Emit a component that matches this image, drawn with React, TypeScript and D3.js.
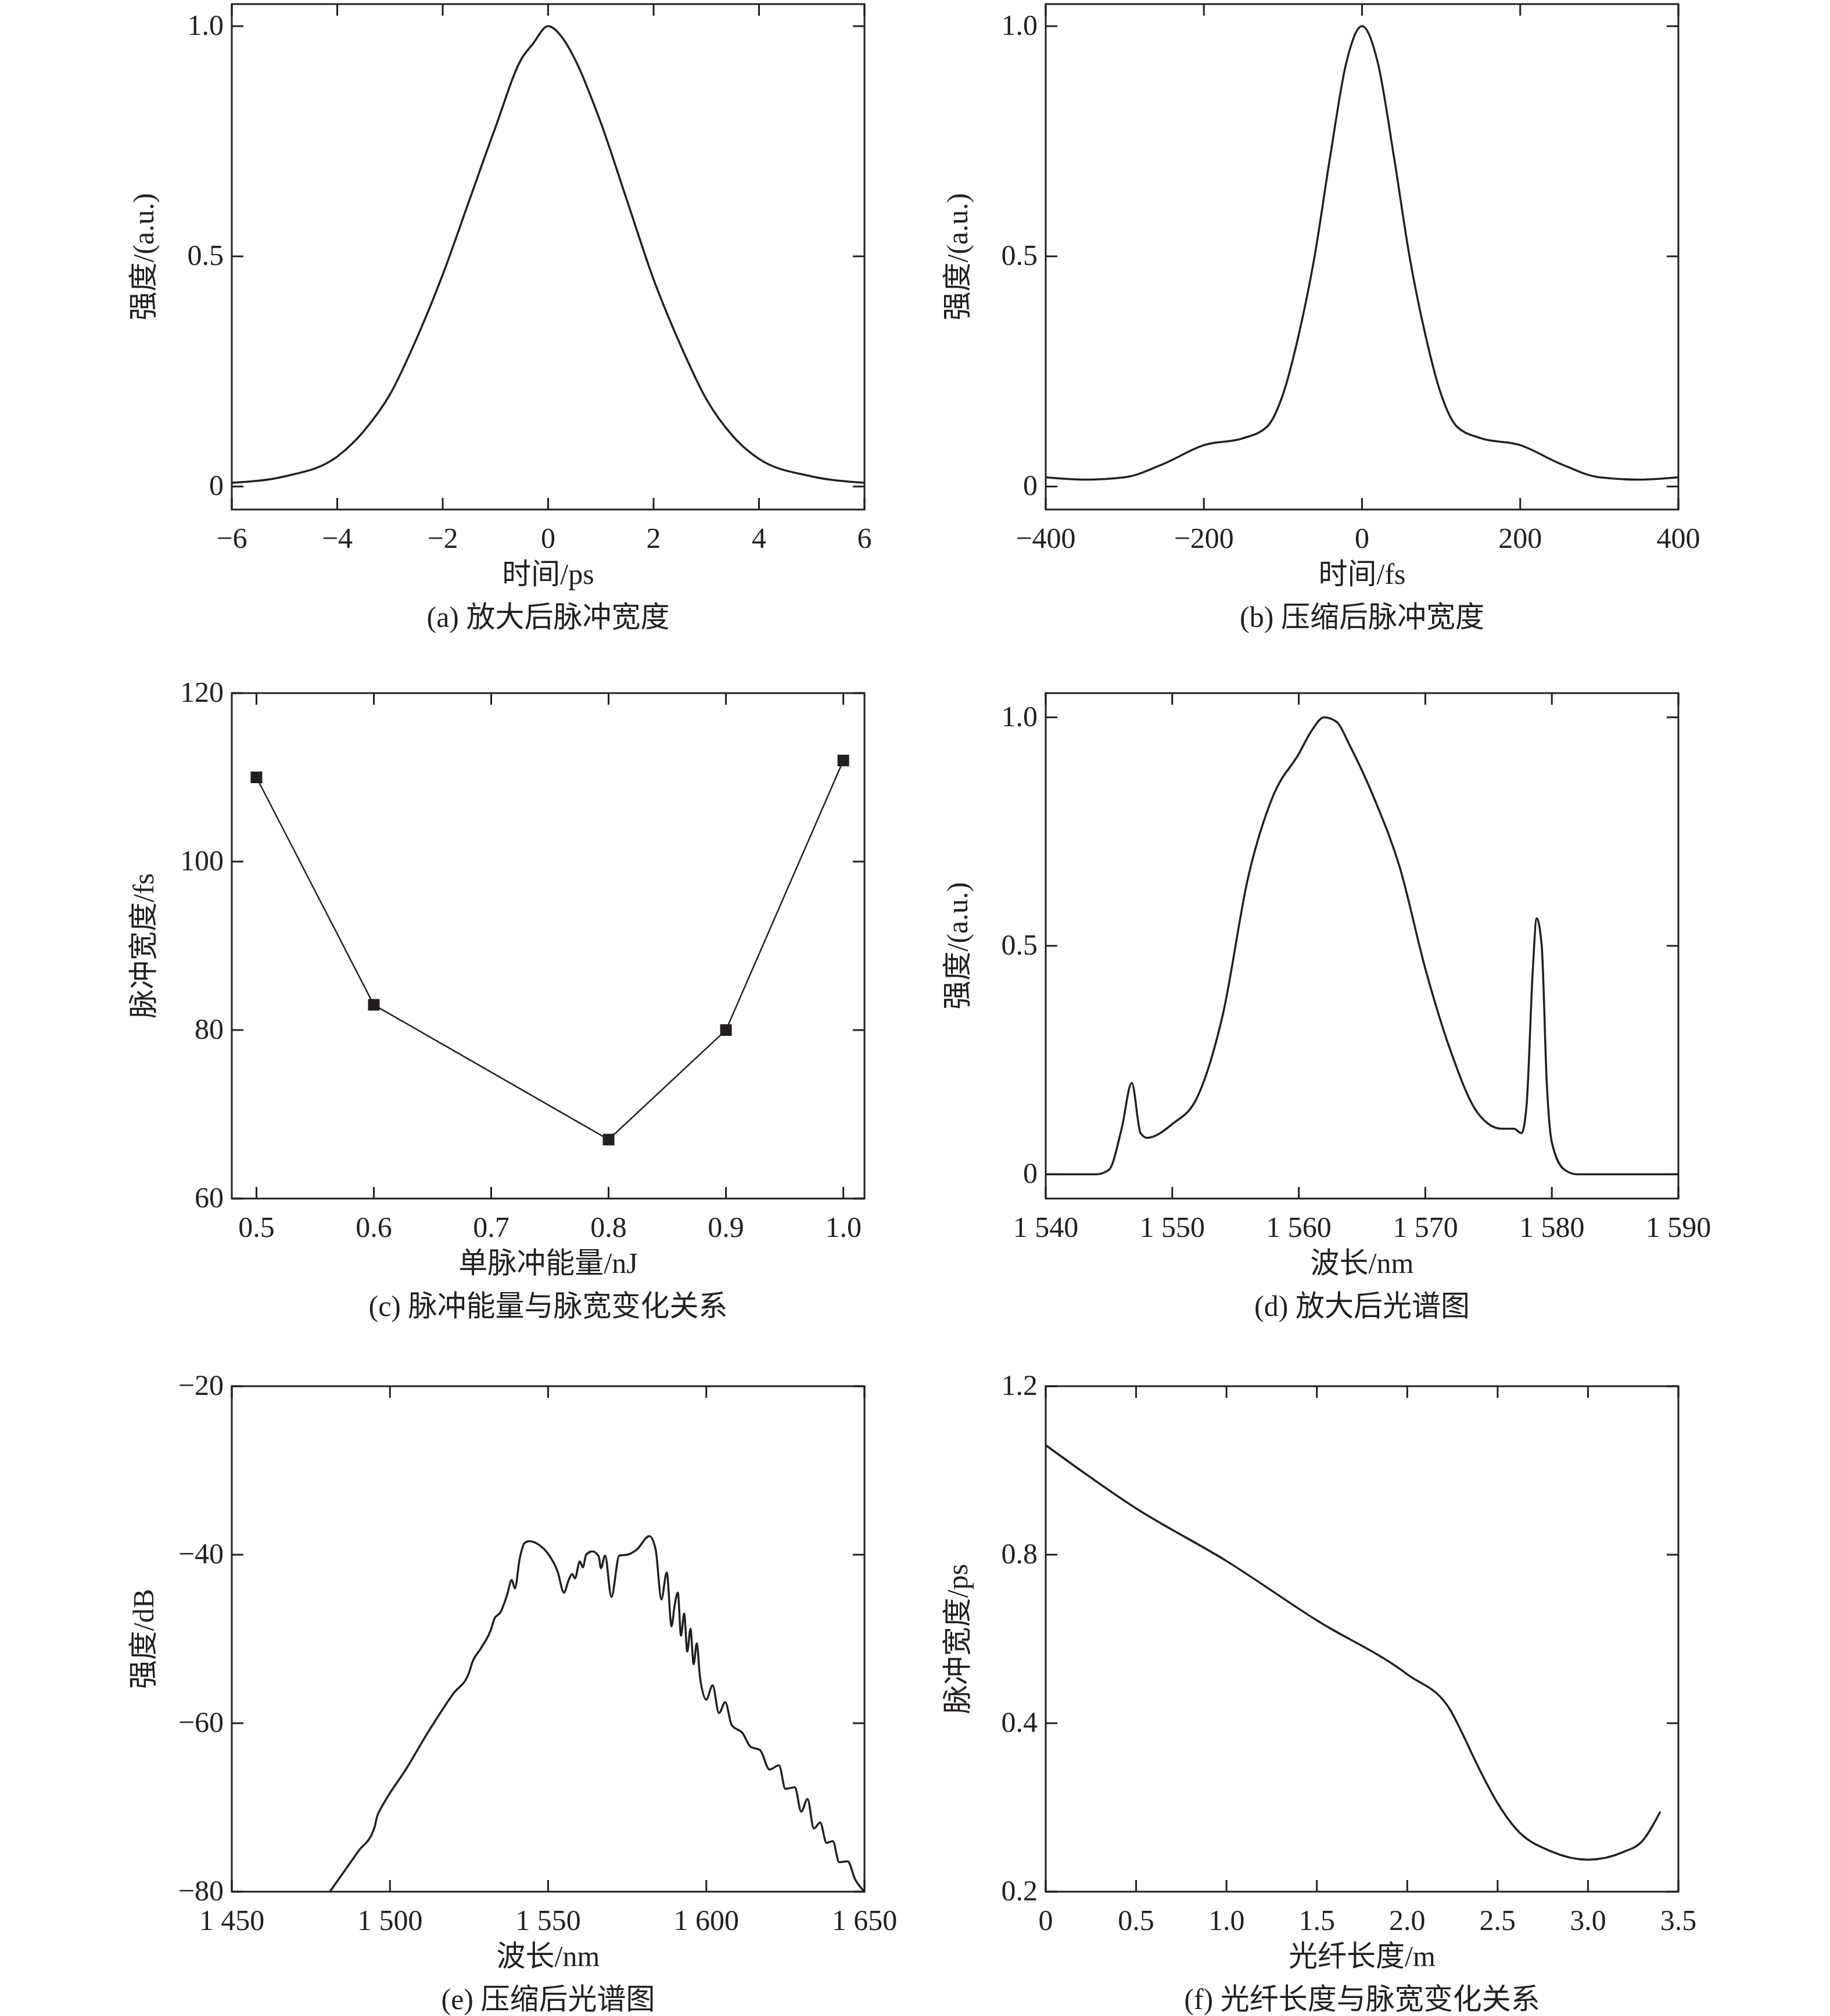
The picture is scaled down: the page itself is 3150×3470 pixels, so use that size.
import * as d3 from "d3";

// (a) pulse after amplification
const aX = [-6, -5, -4, -3.5, -3, -2.5, -2, -1.5, -1, -0.5, -0.3, 0, 0.3, 0.5, 1, 1.5, 2, 2.5, 3, 3.5, 4, 5, 6];
const aY = [0.008, 0.022, 0.065, 0.12, 0.2, 0.32, 0.46, 0.62, 0.78, 0.93, 0.96, 1.0, 0.97, 0.93, 0.79, 0.62, 0.45, 0.31, 0.19, 0.11, 0.06, 0.022, 0.008];
// (b) compressed pulse
const bX = [-400, -350, -300, -250, -200, -150, -120, -100, -80, -60, -40, -20, 0, 20, 40, 60, 80, 100, 120, 150, 200, 250, 300, 350, 400];
const bY = [0.02, 0.015, 0.02, 0.05, 0.09, 0.105, 0.13, 0.2, 0.33, 0.5, 0.72, 0.92, 1.0, 0.92, 0.72, 0.5, 0.33, 0.2, 0.13, 0.105, 0.09, 0.05, 0.02, 0.015, 0.02];
// (c) pulse energy vs width
const cX = [0.5, 0.6, 0.8, 0.9, 1.0];
const cY = [110, 83, 67, 80, 112];
// (d) amplified spectrum
const dX = [1540, 1544, 1545, 1546, 1546.8, 1547.5, 1548, 1550, 1552, 1554, 1556, 1558, 1560, 1561, 1562, 1563, 1564, 1566, 1568, 1570, 1572, 1574, 1575, 1576, 1577, 1577.6, 1578, 1578.5, 1578.8, 1579.2, 1579.6, 1580, 1581, 1582, 1590];
const dY = [0, 0, 0.01, 0.1, 0.2, 0.09, 0.08, 0.11, 0.17, 0.35, 0.65, 0.83, 0.92, 0.97, 1.0, 0.99, 0.94, 0.82, 0.67, 0.45, 0.27, 0.14, 0.11, 0.1, 0.1, 0.09, 0.15, 0.45, 0.56, 0.5, 0.2, 0.07, 0.01, 0, 0];
// (e) compressed spectrum
const eX = [1481, 1490, 1495, 1496, 1497, 1499, 1505, 1512, 1520, 1525, 1526, 1528.6, 1532, 1533, 1535, 1537, 1538.5, 1539.5, 1541, 1542.6, 1544, 1547, 1550, 1553, 1555, 1556.5, 1557.6, 1558.5, 1560, 1561, 1562, 1564, 1566, 1566.7, 1568, 1570, 1572.5, 1575, 1578, 1582, 1584, 1585.8, 1587.5, 1589, 1590, 1591, 1592, 1593, 1594, 1595, 1596, 1597, 1598, 1600, 1602, 1604, 1606, 1608, 1611.5, 1614, 1617, 1620, 1623, 1625, 1628, 1630, 1632, 1634, 1636, 1638, 1640, 1642, 1644.7, 1647, 1650];
const eY = [-80, -75.2, -72.5, -71, -70.2, -68.9, -65.5, -61.1, -56.5, -54, -52.8, -51.2, -48.8, -47.6, -46.8, -44.8, -43, -44, -40.5, -38.6, -38.4, -38.8, -39.9, -42, -44.5, -43, -42.3, -42.8, -40.8, -41.5, -40, -39.6, -40.2, -41.6, -40.1, -45, -40.1, -40, -39.4, -37.8, -39.4, -45.3, -42.1, -48.5, -46, -44.5, -49.6, -47, -51.5, -48.8, -53, -50.5, -54.5, -57.2, -55.5, -58.8, -57.5, -60.2, -61.2, -62.8, -63.2, -65.5, -65, -67.8, -67.6, -70.5, -69, -72.5, -71.8, -74.2, -74, -76.5, -76.4, -78.5, -80];
// (f) fiber length vs pulse width
const fX = [0, 0.5, 1.0, 1.5, 2.0, 2.24, 2.3, 2.4, 2.5, 2.6, 2.8, 3.0, 3.2, 3.3, 3.4];
const fY = [1.06, 0.91, 0.785, 0.644, 0.516, 0.43, 0.38, 0.29, 0.21, 0.15, 0.095, 0.076, 0.095, 0.12, 0.19];

const aTicks = [-6, -4, -2, 0, 2, 4, 6];
const bTicks = [-400, -200, 0, 200, 400];
const cXTicks = [0.5, 0.6, 0.7, 0.8, 0.9, 1.0];
const cYTicks = [60, 80, 100, 120];
const dXTicks = [1540, 1550, 1560, 1570, 1580, 1590];
const eXTicks = [1450, 1500, 1550, 1600, 1650];
const eYTicks = [-80, -60, -40, -20];
const fXTicks = [0, 0.5, 1.0, 1.5, 2.0, 2.5, 3.0, 3.5];
const fYTicks = [0, 0.4, 0.8, 1.2];
const fYLabels = ["0.2", "0.4", "0.8", "1.2"];
const intTicks = [0, 0.5, 1.0];

const SERIF = "'Liberation Serif', 'Noto Sans CJK SC', serif";
const FS = 50;
const minus = (s: string) => s.replace("-", "\u2212");
const spaced = (v: number) => { const s = String(v); return s[0] + " " + s.slice(1); };

type P = {
  left: number; top: number; w: number; h: number;
  xd: number[]; yd: number[]; xt: number[]; yt: number[];
  xf: (v: number) => string; yf: (v: number, i: number) => string;
  xs: number[]; ys: number[]; xl: string; yl: string; cap: string; markers?: boolean;
};

function Panel(p: P) {
  const x = d3.scaleLinear().domain(p.xd).range([0, p.w]);
  const y = d3.scaleLinear().domain(p.yd).range([p.h, 0]);
  const pts = p.xs.map((v, i) => [v, p.ys[i]] as [number, number]);
  const line = d3.line<[number, number]>().x(d => x(d[0])).y(d => y(d[1])).curve(p.markers ? d3.curveLinear : d3.curveMonotoneX);
  const T = 20;
  return (
    <g transform={`translate(${p.left},${p.top})`} fontFamily={SERIF} fill="#231f20">
      <defs><clipPath id={`c${p.left}${p.top}`}><rect width={p.w} height={p.h} /></clipPath></defs>
      <rect width={p.w} height={p.h} fill="none" stroke="#231f20" strokeWidth={3} />
      {p.xt.map(t => (
        <g key={"x" + t}>
          <line x1={x(t)} x2={x(t)} y1={p.h} y2={p.h - T} stroke="#231f20" strokeWidth={3} />
          <line x1={x(t)} x2={x(t)} y1={0} y2={T} stroke="#231f20" strokeWidth={3} />
          <text x={x(t)} y={p.h + 66} fontSize={FS} textAnchor="middle">{p.xf(t)}</text>
        </g>
      ))}
      {p.yt.map((t, i) => (
        <g key={"y" + t}>
          <line x1={0} x2={T} y1={y(t)} y2={y(t)} stroke="#231f20" strokeWidth={3} />
          <line x1={p.w} x2={p.w - T} y1={y(t)} y2={y(t)} stroke="#231f20" strokeWidth={3} />
          <text x={-14} y={y(t)} dy="0.3em" fontSize={FS} textAnchor="end">{p.yf(t, i)}</text>
        </g>
      ))}
      <path d={line(pts) || ""} fill="none" stroke="#231f20" strokeWidth={p.markers ? 2.5 : 3.5} clipPath={`url(#c${p.left}${p.top})`} />
      {p.markers && pts.map((d, i) => (
        <rect key={i} x={x(d[0]) - 10} y={y(d[1]) - 10} width={20} height={20} fill="#231f20" />
      ))}
      <text x={p.w / 2} y={p.h + 128} fontSize={FS} textAnchor="middle">{p.xl}</text>
      <text x={p.w / 2} y={p.h + 202} fontSize={FS} textAnchor="middle">{p.cap}</text>
      <text transform={`translate(-135,${p.h / 2}) rotate(-90)`} fontSize={FS} textAnchor="middle">{p.yl}</text>
    </g>
  );
}

export default function App() {
  const W = 1089, H = 870;
  const L1 = 399, L2 = 1800, T1 = 7, T2 = 1193, T3 = 2386;
  const num = (v: number) => minus(String(v));
  const f1 = (v: number) => (v === 0 ? "0" : v.toFixed(1));
  return (
    <svg width={3150} height={3470} style={{ position: "absolute", left: 0, top: 0, background: "#fff" }}>
      <Panel left={L1} top={T1} w={W} h={H} xd={[-6, 6]} yd={[-0.05, 1.048]} xt={aTicks} yt={intTicks}
        xf={num} yf={f1} xs={aX} ys={aY} xl="时间/ps" yl="强度/(a.u.)" cap="(a) 放大后脉冲宽度" />
      <Panel left={L2} top={T1} w={W} h={H} xd={[-400, 400]} yd={[-0.05, 1.048]} xt={bTicks} yt={intTicks}
        xf={num} yf={f1} xs={bX} ys={bY} xl="时间/fs" yl="强度/(a.u.)" cap="(b) 压缩后脉冲宽度" />
      <Panel left={L1} top={T2} w={W} h={H} xd={[0.479, 1.018]} yd={[60, 120]} xt={cXTicks} yt={cYTicks}
        xf={v => v.toFixed(1)} yf={v => String(v)} xs={cX} ys={cY} xl="单脉冲能量/nJ" yl="脉冲宽度/fs" cap="(c) 脉冲能量与脉宽变化关系" markers />
      <Panel left={L2} top={T2} w={W} h={H} xd={[1540, 1590]} yd={[-0.053, 1.053]} xt={dXTicks} yt={intTicks}
        xf={spaced} yf={f1} xs={dX} ys={dY} xl="波长/nm" yl="强度/(a.u.)" cap="(d) 放大后光谱图" />
      <Panel left={L1} top={T3} w={W} h={H} xd={[1450, 1650]} yd={[-80, -20]} xt={eXTicks} yt={eYTicks}
        xf={spaced} yf={num} xs={eX} ys={eY} xl="波长/nm" yl="强度/dB" cap="(e) 压缩后光谱图" markers={false} />
      <Panel left={L2} top={T3} w={W} h={H} xd={[0, 3.5]} yd={[0, 1.2]} xt={fXTicks} yt={fYTicks}
        xf={v => (v === 0 ? "0" : v.toFixed(1))} yf={(_, i) => fYLabels[i]} xs={fX} ys={fY} xl="光纤长度/m" yl="脉冲宽度/ps" cap="(f) 光纤长度与脉宽变化关系" />
    </svg>
  );
}
